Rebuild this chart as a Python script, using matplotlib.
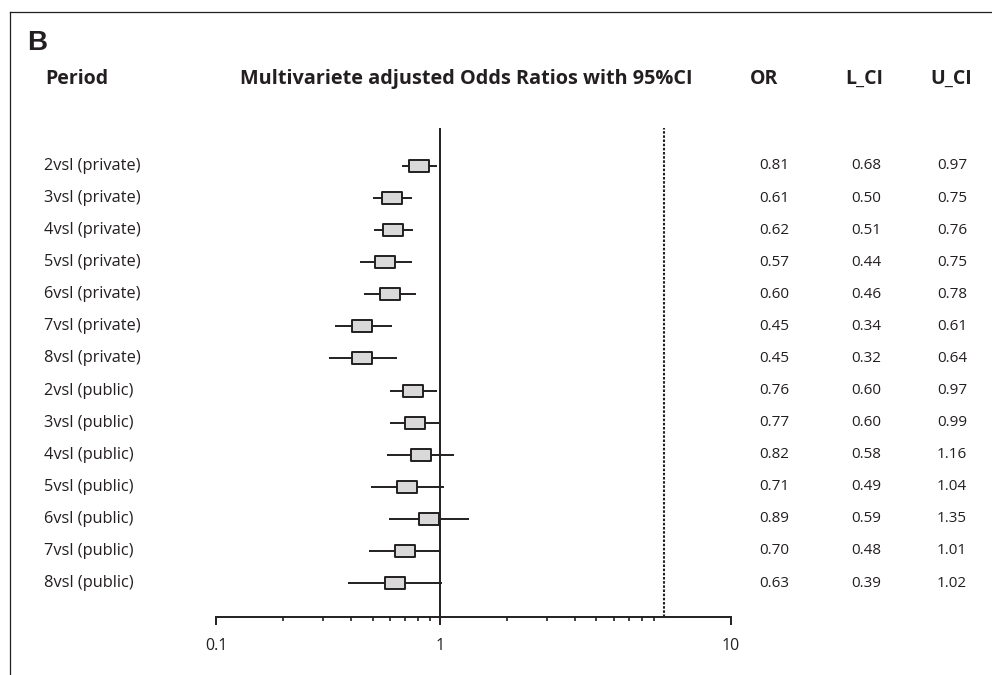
import matplotlib
matplotlib.use("Agg")
import matplotlib.pyplot as plt
import matplotlib.transforms as mtransforms
from matplotlib.lines import Line2D
from matplotlib.path import Path
from matplotlib.ticker import FixedLocator, NullFormatter

plt.rcParams["font.family"] = ["Open Sans", "DejaVu Sans"]

PERIODS = [
    "2vsl (private)", "3vsl (private)", "4vsl (private)", "5vsl (private)",
    "6vsl (private)", "7vsl (private)", "8vsl (private)",
    "2vsl (public)", "3vsl (public)", "4vsl (public)", "5vsl (public)",
    "6vsl (public)", "7vsl (public)", "8vsl (public)",
]
ODDS = [0.81, 0.61, 0.62, 0.57, 0.60, 0.45, 0.45, 0.76, 0.77, 0.82, 0.71, 0.89, 0.70, 0.63]
LOWER = [0.68, 0.50, 0.51, 0.44, 0.46, 0.34, 0.32, 0.60, 0.60, 0.58, 0.49, 0.59, 0.48, 0.39]
UPPER = [0.97, 0.75, 0.76, 0.75, 0.78, 0.61, 0.64, 0.97, 0.99, 1.16, 1.04, 1.35, 1.01, 1.02]

TICK_POS = [0.1, 1, 19.95]
TICK_LABELS = ["0.1", "1", "10"]
MINOR_POS = [0.2, 0.3, 0.4, 0.5, 0.6, 0.7, 0.8, 0.9, 2, 3, 4, 5, 6, 7, 8, 9]

INK = "#231f20"
BOX_FILL = "#d9d9d9"

W, H = 992, 675
fig = plt.figure(figsize=(W / 100, H / 100), dpi=100)

# forest panel: x from 216 px to 731 px, y from 128 px to 617 px
ax_left, ax_right, ax_top, ax_bot = 216, 731, 128, 617
ax = fig.add_axes([ax_left / W, 1 - ax_bot / H, (ax_right - ax_left) / W, (ax_bot - ax_top) / H])
ax.set_xscale("log")
ax.set_xlim(0.1, 19.95)
row_gap = 32.08
ax.set_ylim(13 + (ax_bot - 583) / row_gap, -(166 - ax_top) / row_gap)

rows = list(range(len(PERIODS)))
ax.hlines(rows, LOWER, UPPER, color=INK, lw=1.4, zorder=2)

box = Path([(-1, -0.56), (1, -0.56), (1, 0.56), (-1, 0.56), (-1, -0.56)],
           [Path.MOVETO, Path.LINETO, Path.LINETO, Path.LINETO, Path.CLOSEPOLY])
ax.plot(ODDS, rows, ls="none", marker=box, markersize=15,
        markerfacecolor=BOX_FILL, markeredgecolor=INK, markeredgewidth=1.4, zorder=3)

ax.axvline(1, color=INK, lw=1.4, zorder=1)
ax.axvline(10, color=INK, lw=1.5, ls=(0, (1.2, 0.8)), zorder=1)

for side in ["top", "right", "left"]:
    ax.spines[side].set_visible(False)
ax.spines["bottom"].set_linewidth(1.4)
ax.spines["bottom"].set_color(INK)
ax.set_yticks([])
ax.xaxis.set_major_locator(FixedLocator(TICK_POS))
ax.set_xticklabels(TICK_LABELS)
ax.xaxis.set_minor_locator(FixedLocator(MINOR_POS))
ax.xaxis.set_minor_formatter(NullFormatter())
ax.tick_params(axis="x", which="major", length=6, width=1.4, color=INK, labelsize=11.5, pad=9, labelcolor=INK)
ax.tick_params(axis="x", which="minor", length=3, width=1.2, color=INK)

# text columns share the row positions of the panel
tr = mtransforms.blended_transform_factory(fig.transFigure, ax.transData)
for i, name in enumerate(PERIODS):
    ax.text(44 / W, i, name, transform=tr, ha="left", va="center", fontsize=11.8, color=INK)
    ax.text(774 / W, i, f"{ODDS[i]:.2f}", transform=tr, ha="center", va="center", fontsize=11, color=INK)
    ax.text(866 / W, i, f"{LOWER[i]:.2f}", transform=tr, ha="center", va="center", fontsize=11, color=INK)
    ax.text(952 / W, i, f"{UPPER[i]:.2f}", transform=tr, ha="center", va="center", fontsize=11, color=INK)

hy = 1 - 84 / H
fig.text(45 / W, hy, "Period", ha="left", va="baseline", fontsize=14, fontweight="bold", color=INK)
fig.text(466 / W, hy, "Multivariete adjusted Odds Ratios with 95%CI", ha="center", va="baseline",
         fontsize=14.3, fontweight="bold", color=INK)
fig.text(764 / W, hy, "OR", ha="center", va="baseline", fontsize=14, fontweight="bold", color=INK)
fig.text(864 / W, hy, "L_CI", ha="center", va="baseline", fontsize=14, fontweight="bold", color=INK)
fig.text(951 / W, hy, "U_CI", ha="center", va="baseline", fontsize=14, fontweight="bold", color=INK)
fig.text(27 / W, 1 - 43 / H, "B", ha="left", va="center", fontsize=20, fontweight="bold",
         family=["Liberation Sans", "DejaVu Sans"], color=INK)

# panel frame, open at the right and bottom
fig.add_artist(Line2D([10 / W, 1], [1 - 12 / H, 1 - 12 / H], transform=fig.transFigure, color=INK, lw=0.9))
fig.add_artist(Line2D([10 / W, 10 / W], [0, 1 - 12 / H], transform=fig.transFigure, color=INK, lw=0.9))

fig.savefig("out.png", dpi=100)
